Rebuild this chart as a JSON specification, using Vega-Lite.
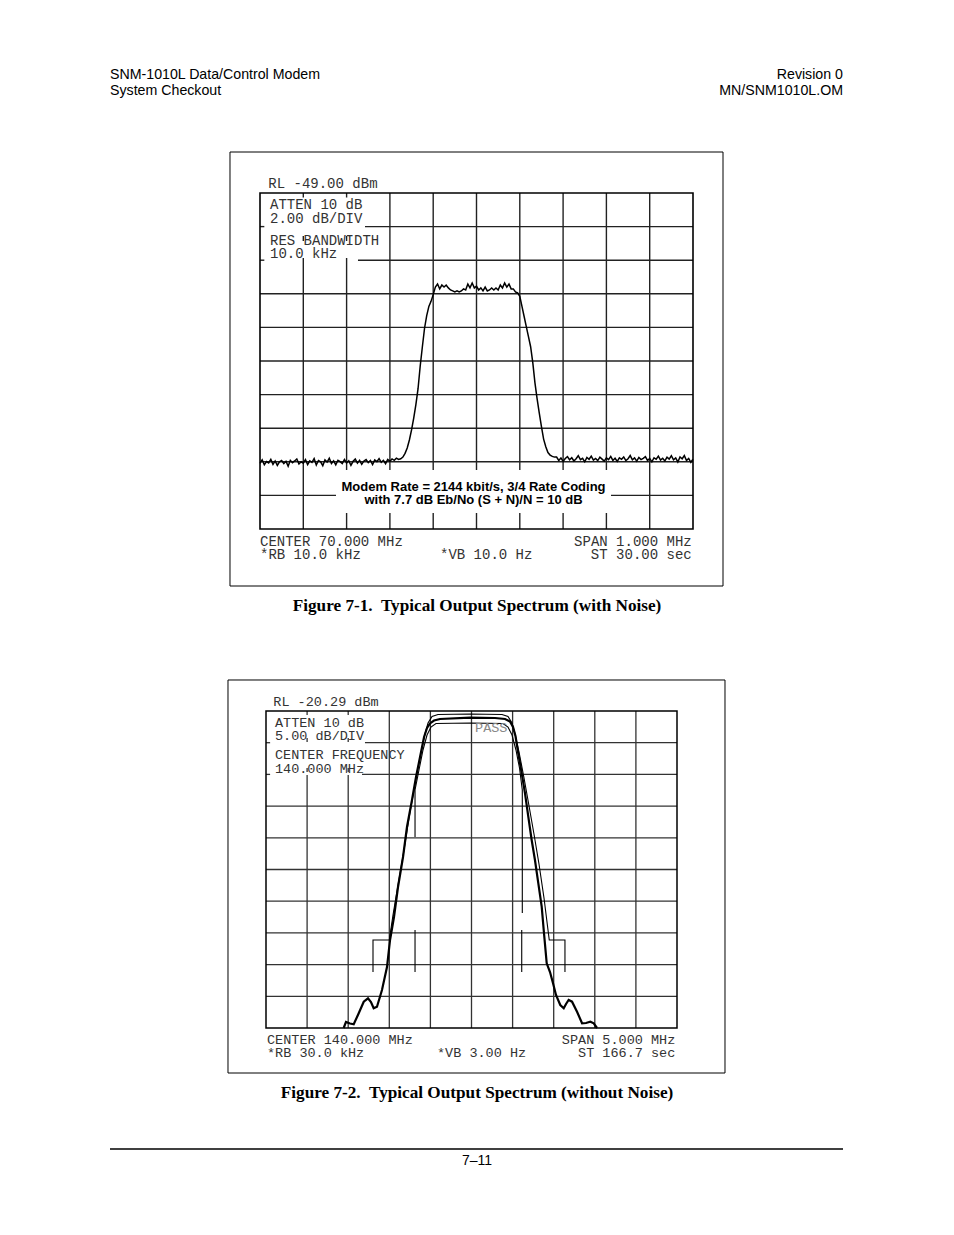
{
"$schema":"https://vega.github.io/schema/vega-lite/v6.json",
"width":954,"height":1235,"padding":0,
"autosize":{"type":"fit","contains":"padding"},
"background":"white",
"config":{"view":{"stroke":null}},
"resolve":{"scale":{"x":"independent","y":"independent"}},
"datasets":{
"p1trace":[
{"f":69.500,"d":-65.10},{"f":69.505,"d":-64.89},{"f":69.510,"d":-65.18},{"f":69.515,"d":-64.99},{"f":69.520,"d":-65.07},{"f":69.525,"d":-64.86},{"f":69.530,"d":-65.15},{"f":69.535,"d":-64.95},{"f":69.540,"d":-65.21},{"f":69.545,"d":-65.00},
{"f":69.550,"d":-64.92},{"f":69.555,"d":-65.11},{"f":69.560,"d":-64.97},{"f":69.565,"d":-65.26},{"f":69.570,"d":-64.91},{"f":69.575,"d":-65.05},{"f":69.580,"d":-64.95},{"f":69.585,"d":-64.83},{"f":69.590,"d":-65.13},{"f":69.595,"d":-65.00},
{"f":69.600,"d":-65.08},{"f":69.605,"d":-64.87},{"f":69.610,"d":-65.16},{"f":69.615,"d":-64.94},{"f":69.620,"d":-65.03},{"f":69.625,"d":-64.81},{"f":69.630,"d":-65.19},{"f":69.635,"d":-64.92},{"f":69.640,"d":-65.00},{"f":69.645,"d":-65.23},
{"f":69.650,"d":-64.89},{"f":69.655,"d":-65.02},{"f":69.660,"d":-64.79},{"f":69.665,"d":-65.10},{"f":69.670,"d":-64.94},{"f":69.675,"d":-65.18},{"f":69.680,"d":-64.91},{"f":69.685,"d":-64.99},{"f":69.690,"d":-65.11},{"f":69.695,"d":-64.86},
{"f":69.700,"d":-65.07},{"f":69.705,"d":-64.94},{"f":69.710,"d":-65.21},{"f":69.715,"d":-64.97},{"f":69.720,"d":-64.84},{"f":69.725,"d":-65.08},{"f":69.730,"d":-64.91},{"f":69.735,"d":-65.15},{"f":69.740,"d":-64.95},{"f":69.745,"d":-64.87},
{"f":69.750,"d":-65.05},{"f":69.755,"d":-64.92},{"f":69.760,"d":-65.16},{"f":69.765,"d":-64.89},{"f":69.770,"d":-64.99},{"f":69.775,"d":-64.81},{"f":69.780,"d":-65.03},{"f":69.785,"d":-64.91},{"f":69.790,"d":-65.11},{"f":69.795,"d":-64.86},
{"f":69.800,"d":-64.97},{"f":69.805,"d":-64.83},{"f":69.810,"d":-64.91},{"f":69.815,"d":-64.78},{"f":69.820,"d":-64.86},
{"f":69.825,"d":-64.82},{"f":69.830,"d":-64.72},{"f":69.835,"d":-64.50},{"f":69.840,"d":-64.18},{"f":69.845,"d":-63.70},{"f":69.850,"d":-63.10},{"f":69.855,"d":-62.40},{"f":69.860,"d":-61.60},{"f":69.865,"d":-60.65},{"f":69.870,"d":-59.30},
{"f":69.875,"d":-58.15},{"f":69.880,"d":-57.05},{"f":69.885,"d":-56.30},{"f":69.890,"d":-55.75},{"f":69.895,"d":-55.45},{"f":69.900,"d":-55.05},
{"f":69.905,"d":-54.60},{"f":69.910,"d":-54.42},{"f":69.915,"d":-54.71},{"f":69.920,"d":-54.48},{"f":69.925,"d":-54.60},{"f":69.930,"d":-54.48},{"f":69.935,"d":-54.65},{"f":69.940,"d":-54.77},{"f":69.945,"d":-54.83},{"f":69.950,"d":-54.89},
{"f":69.955,"d":-54.83},{"f":69.960,"d":-54.89},{"f":69.965,"d":-54.83},{"f":69.970,"d":-54.71},{"f":69.975,"d":-54.77},{"f":69.980,"d":-54.42},{"f":69.985,"d":-54.65},{"f":69.990,"d":-54.36},{"f":69.995,"d":-54.65},{"f":70.000,"d":-54.54},
{"f":70.005,"d":-54.77},{"f":70.010,"d":-54.65},{"f":70.015,"d":-54.83},{"f":70.020,"d":-54.60},{"f":70.025,"d":-54.83},{"f":70.030,"d":-54.77},{"f":70.035,"d":-54.65},{"f":70.040,"d":-54.77},{"f":70.045,"d":-54.65},{"f":70.050,"d":-54.77},
{"f":70.055,"d":-54.48},{"f":70.060,"d":-54.65},{"f":70.065,"d":-54.36},{"f":70.070,"d":-54.60},{"f":70.075,"d":-54.42},{"f":70.080,"d":-54.71},{"f":70.085,"d":-54.71},{"f":70.090,"d":-54.89},{"f":70.095,"d":-54.95},
{"f":70.100,"d":-55.15},{"f":70.105,"d":-55.75},{"f":70.110,"d":-56.35},{"f":70.115,"d":-56.95},{"f":70.120,"d":-57.55},{"f":70.125,"d":-58.15},{"f":70.130,"d":-59.10},{"f":70.135,"d":-60.30},{"f":70.140,"d":-61.25},{"f":70.145,"d":-62.10},
{"f":70.150,"d":-62.90},{"f":70.155,"d":-63.65},{"f":70.160,"d":-64.10},{"f":70.165,"d":-64.45},{"f":70.170,"d":-64.60},{"f":70.175,"d":-64.68},{"f":70.180,"d":-64.72},
{"f":70.185,"d":-64.72},{"f":70.190,"d":-64.92},{"f":70.195,"d":-64.77},{"f":70.200,"d":-64.98},{"f":70.205,"d":-64.80},{"f":70.210,"d":-64.69},{"f":70.215,"d":-64.88},{"f":70.220,"d":-64.76},{"f":70.225,"d":-64.95},{"f":70.230,"d":-64.82},
{"f":70.235,"d":-64.64},{"f":70.240,"d":-64.87},{"f":70.245,"d":-64.79},{"f":70.250,"d":-65.00},{"f":70.255,"d":-64.74},{"f":70.260,"d":-64.85},{"f":70.265,"d":-64.66},{"f":70.270,"d":-64.90},{"f":70.275,"d":-64.80},{"f":70.280,"d":-64.93},
{"f":70.285,"d":-64.72},{"f":70.290,"d":-64.84},{"f":70.295,"d":-64.96},{"f":70.300,"d":-64.77},{"f":70.305,"d":-64.87},{"f":70.310,"d":-64.68},{"f":70.315,"d":-64.92},{"f":70.320,"d":-64.79},{"f":70.325,"d":-64.98},{"f":70.330,"d":-64.76},
{"f":70.335,"d":-64.85},{"f":70.340,"d":-64.71},{"f":70.345,"d":-64.93},{"f":70.350,"d":-64.82},{"f":70.355,"d":-64.63},{"f":70.360,"d":-64.88},{"f":70.365,"d":-64.77},{"f":70.370,"d":-64.96},{"f":70.375,"d":-64.74},{"f":70.380,"d":-64.87},
{"f":70.385,"d":-64.79},{"f":70.390,"d":-64.69},{"f":70.395,"d":-64.92},{"f":70.400,"d":-64.80},{"f":70.405,"d":-65.00},{"f":70.410,"d":-64.76},{"f":70.415,"d":-64.85},{"f":70.420,"d":-64.66},{"f":70.425,"d":-64.90},{"f":70.430,"d":-64.79},
{"f":70.435,"d":-64.95},{"f":70.440,"d":-64.72},{"f":70.445,"d":-64.84},{"f":70.450,"d":-64.64},{"f":70.455,"d":-64.88},{"f":70.460,"d":-64.77},{"f":70.465,"d":-65.01},{"f":70.470,"d":-64.71},{"f":70.475,"d":-64.82},{"f":70.480,"d":-64.63},
{"f":70.485,"d":-64.92},{"f":70.490,"d":-64.80},{"f":70.495,"d":-65.03},{"f":70.500,"d":-64.85}
],
"p1grid":[
{"x1":69.6,"x2":69.6,"y1":-49,"y2":-49.268},{"x1":69.6,"x2":69.6,"y1":-51.56,"y2":-51.857},{"x1":69.6,"x2":69.6,"y1":-52.869,"y2":-69},
{"x1":69.7,"x2":69.7,"y1":-49,"y2":-49.268},{"x1":69.7,"x2":69.7,"y1":-51.56,"y2":-51.857},{"x1":69.7,"x2":69.7,"y1":-52.869,"y2":-65.488},{"x1":69.7,"x2":69.7,"y1":-68.048,"y2":-69},
{"x1":69.8,"x2":69.8,"y1":-49,"y2":-65.488},{"x1":69.8,"x2":69.8,"y1":-68.048,"y2":-69},
{"x1":69.9,"x2":69.9,"y1":-49,"y2":-65.488},{"x1":69.9,"x2":69.9,"y1":-68.048,"y2":-69},
{"x1":70.0,"x2":70.0,"y1":-49,"y2":-65.488},{"x1":70.0,"x2":70.0,"y1":-68.048,"y2":-69},
{"x1":70.1,"x2":70.1,"y1":-49,"y2":-65.488},{"x1":70.1,"x2":70.1,"y1":-68.048,"y2":-69},
{"x1":70.2,"x2":70.2,"y1":-49,"y2":-65.488},{"x1":70.2,"x2":70.2,"y1":-68.048,"y2":-69},
{"x1":70.3,"x2":70.3,"y1":-49,"y2":-65.488},{"x1":70.3,"x2":70.3,"y1":-68.048,"y2":-69},
{"x1":70.4,"x2":70.4,"y1":-49,"y2":-69},
{"x1":69.7425,"x2":70.5,"y1":-51,"y2":-51},{"x1":69.5,"x2":69.51,"y1":-51,"y2":-51},
{"x1":69.7263,"x2":70.5,"y1":-53,"y2":-53},{"x1":69.5,"x2":69.51,"y1":-53,"y2":-53},
{"x1":69.5,"x2":70.5,"y1":-55,"y2":-55},{"x1":69.5,"x2":70.5,"y1":-57,"y2":-57},{"x1":69.5,"x2":70.5,"y1":-59,"y2":-59},
{"x1":69.5,"x2":70.5,"y1":-61,"y2":-61},{"x1":69.5,"x2":70.5,"y1":-63,"y2":-63},{"x1":69.5,"x2":70.5,"y1":-65,"y2":-65},
{"x1":69.5,"x2":69.6755,"y1":-67,"y2":-67},{"x1":70.3106,"x2":70.5,"y1":-67,"y2":-67}
],
"p1frame":[{"x1":69.5,"x2":70.5,"y1":-49,"y2":-69}],
"p1outer":[{"x1":69.4307,"x2":70.5693,"y1":-46.56,"y2":-72.393}],
"p1mono":[
{"t":"RL -49.00 dBm","f":69.5192,"d":-48.464},
{"t":"ATTEN 10 dB","f":69.5231,"d":-49.714},
{"t":"2.00 dB/DIV","f":69.5231,"d":-50.577},
{"t":"RES BANDWIDTH","f":69.5231,"d":-51.839},
{"t":"10.0 kHz","f":69.5231,"d":-52.649},
{"t":"CENTER 70.000 MHz","f":69.5,"d":-69.756},
{"t":"*RB 10.0 kHz","f":69.5,"d":-70.565},
{"t":"*VB 10.0 Hz","f":69.9157,"d":-70.565}
],
"p1monoR":[
{"t":"SPAN 1.000 MHz","f":70.497,"d":-69.756},
{"t":"ST 30.00 sec","f":70.497,"d":-70.565}
],
"p1note":[
{"t":"Modem Rate = 2144 kbit/s, 3/4 Rate Coding","f":69.9931,"d":-66.518},
{"t":"with 7.7 dB Eb/No (S + N)/N = 10 dB","f":69.9931,"d":-67.274}
],
"headL":[
{"t":"SNM-1010L Data/Control Modem","f":69.1536,"d":-41.976},
{"t":"System Checkout","f":69.1536,"d":-42.929}
],
"headR":[
{"t":"Revision 0","f":70.8464,"d":-41.976},
{"t":"MN/SNM1010L.OM","f":70.8464,"d":-42.929}
],
"cap1":[{"t":"Figure 7-1.\u00a0 Typical Output Spectrum (with Noise)","f":70.0012,"d":-73.583}],
"p2grid":[
{"x1":138,"x2":138,"y1":-20.29,"y2":-20.921},{"x1":138,"x2":138,"y1":-24.549,"y2":-25.18},{"x1":138,"x2":138,"y1":-29.281,"y2":-29.912},{"x1":138,"x2":138,"y1":-30.385,"y2":-70.29},
{"x1":138.5,"x2":138.5,"y1":-20.29,"y2":-20.921},{"x1":138.5,"x2":138.5,"y1":-24.549,"y2":-25.18},{"x1":138.5,"x2":138.5,"y1":-29.281,"y2":-29.912},{"x1":138.5,"x2":138.5,"y1":-30.385,"y2":-70.29},
{"x1":139,"x2":139,"y1":-20.29,"y2":-70.29},{"x1":139.5,"x2":139.5,"y1":-20.29,"y2":-70.29},{"x1":140,"x2":140,"y1":-20.29,"y2":-70.29},
{"x1":140.5,"x2":140.5,"y1":-20.29,"y2":-70.29},{"x1":141,"x2":141,"y1":-20.29,"y2":-70.29},{"x1":141.5,"x2":141.5,"y1":-20.29,"y2":-70.29},{"x1":142,"x2":142,"y1":-20.29,"y2":-70.29},
{"x1":138.704,"x2":142.5,"y1":-25.29,"y2":-25.29},{"x1":137.5,"x2":137.55,"y1":-25.29,"y2":-25.29},
{"x1":138.668,"x2":142.5,"y1":-30.29,"y2":-30.29},{"x1":137.5,"x2":137.55,"y1":-30.29,"y2":-30.29},
{"x1":137.5,"x2":142.5,"y1":-35.29,"y2":-35.29},{"x1":137.5,"x2":142.5,"y1":-40.29,"y2":-40.29},{"x1":137.5,"x2":142.5,"y1":-45.29,"y2":-45.29},
{"x1":137.5,"x2":142.5,"y1":-50.29,"y2":-50.29},{"x1":137.5,"x2":142.5,"y1":-55.29,"y2":-55.29},{"x1":137.5,"x2":142.5,"y1":-60.29,"y2":-60.29},
{"x1":137.5,"x2":142.5,"y1":-65.29,"y2":-65.29}
],
"p2frame":[{"x1":137.5,"x2":142.5,"y1":-20.29,"y2":-70.29}],
"p2outer":[{"x1":137.0377,"x2":143.0839,"y1":-15.4,"y2":-77.388}],
"p2meas":[
{"f":138.445,"d":-70.29},{"f":138.473,"d":-69.34},{"f":138.522,"d":-69.58},{"f":138.567,"d":-69.71},{"f":138.628,"d":-67.97},{"f":138.689,"d":-66.14},
{"f":138.741,"d":-65.61},{"f":138.777,"d":-66.19},{"f":138.810,"d":-67.18},{"f":138.850,"d":-66.93},{"f":138.911,"d":-64.30},{"f":138.972,"d":-60.67},
{"f":139.009,"d":-56.41},{"f":139.057,"d":-52.78},{"f":139.106,"d":-48.05},{"f":139.167,"d":-43.32},{"f":139.215,"d":-38.59},{"f":139.276,"d":-34.33},
{"f":139.325,"d":-30.70},{"f":139.374,"d":-27.55},{"f":139.423,"d":-24.39},{"f":139.459,"d":-22.97},{"f":139.495,"d":-22.26},{"f":139.544,"d":-21.79},
{"f":139.617,"d":-21.55},{"f":139.982,"d":-21.32},{"f":140.286,"d":-21.39},{"f":140.408,"d":-21.55},{"f":140.468,"d":-21.95},{"f":140.505,"d":-22.81},
{"f":140.535,"d":-24.23},{"f":140.569,"d":-26.96},{"f":140.611,"d":-30.12},{"f":140.651,"d":-33.27},{"f":140.691,"d":-36.96},{"f":140.732,"d":-40.64},
{"f":140.772,"d":-43.79},{"f":140.813,"d":-47.47},{"f":140.854,"d":-51.16},{"f":140.882,"d":-55.35},{"f":140.915,"d":-60.09},{"f":140.955,"d":-61.46},
{"f":140.991,"d":-63.19},{"f":141.028,"d":-65.08},{"f":141.080,"d":-66.66},{"f":141.122,"d":-67.18},{"f":141.150,"d":-66.50},{"f":141.182,"d":-65.87},
{"f":141.223,"d":-66.14},{"f":141.284,"d":-67.72},{"f":141.345,"d":-69.55},{"f":141.393,"d":-69.50},{"f":141.446,"d":-69.30},{"f":141.487,"d":-69.55},
{"f":141.527,"d":-70.29}
],
"p2mask":[
{"s":"outer","f":138.8017,"d":-61.457},{"s":"outer","f":138.8017,"d":-56.41},{"s":"outer","f":139.0,"d":-56.41},{"s":"outer","f":139.045,"d":-52.467},
{"s":"outer","f":139.106,"d":-47.735},{"s":"outer","f":139.179,"d":-42.215},{"s":"outer","f":139.24,"d":-37.167},{"s":"outer","f":139.301,"d":-32.751},
{"s":"outer","f":139.349,"d":-29.281},{"s":"outer","f":139.398,"d":-26.126},{"s":"outer","f":139.434,"d":-23.918},{"s":"outer","f":139.471,"d":-22.183},
{"s":"outer","f":139.52,"d":-21.157},{"s":"outer","f":139.592,"d":-20.842},{"s":"outer","f":139.982,"d":-20.763},{"s":"outer","f":140.371,"d":-20.842},
{"s":"outer","f":140.444,"d":-21.157},{"s":"outer","f":140.493,"d":-22.183},{"s":"outer","f":140.529,"d":-23.918},{"s":"outer","f":140.578,"d":-26.757},
{"s":"outer","f":140.639,"d":-30.858},{"s":"outer","f":140.7,"d":-35.274},{"s":"outer","f":140.76,"d":-39.691},{"s":"outer","f":140.821,"d":-44.423},
{"s":"outer","f":140.882,"d":-49.786},{"s":"outer","f":140.946,"d":-56.41},{"s":"outer","f":141.137,"d":-56.41},{"s":"outer","f":141.137,"d":-61.457},
{"s":"inner","f":139.313,"d":-40.164},{"s":"inner","f":139.313,"d":-32.751},{"s":"inner","f":139.361,"d":-29.596},{"s":"inner","f":139.41,"d":-26.441},
{"s":"inner","f":139.459,"d":-24.076},{"s":"inner","f":139.507,"d":-22.814},{"s":"inner","f":139.568,"d":-22.262},{"s":"inner","f":139.982,"d":-22.183},
{"s":"inner","f":140.383,"d":-22.262},{"s":"inner","f":140.444,"d":-22.814},{"s":"inner","f":140.493,"d":-24.076},{"s":"inner","f":140.541,"d":-26.441},
{"s":"inner","f":140.584,"d":-29.281},{"s":"inner","f":140.618,"d":-32.751},{"s":"inner","f":140.618,"d":-52.151}
],
"p2vert":[
{"f":139.313,"d1":-54.832,"d2":-61.457},
{"f":140.611,"d1":-54.832,"d2":-61.457}
],
"p2mono":[
{"t":"RL -20.29 dBm","f":137.589,"d":-18.87},
{"t":"ATTEN 10 dB","f":137.609,"d":-22.23},
{"t":"5.00 dB/DIV","f":137.609,"d":-24.233},
{"t":"CENTER FREQUENCY","f":137.609,"d":-27.23},
{"t":"140.000 MHz","f":137.609,"d":-29.49},
{"t":"CENTER 140.000 MHz","f":137.512,"d":-72.135},
{"t":"*RB 30.0 kHz","f":137.512,"d":-74.264},
{"t":"*VB 3.00 Hz","f":139.58,"d":-74.264}
],
"p2monoR":[
{"t":"SPAN 5.000 MHz","f":142.479,"d":-72.135},
{"t":"ST 166.7 sec","f":142.479,"d":-74.264}
],
"p2pass":[{"t":"PASS","f":140.043,"d":-23.02}],
"cap2":[{"t":"Figure 7-2.\u00a0 Typical Output Spectrum (without Noise)","f":140.067,"d":-80.542}],
"footrule":[{"x1":135.6022,"x2":144.5195,"y":-89.374}],
"pagenum":[{"t":"7\u201311","f":140.067,"d":-91.267}]
},
"layer":[
{"data":{"name":"p1outer"},"mark":{"type":"rect","fill":null,"fillOpacity":0,"stroke":"#000","strokeWidth":1},
 "encoding":{"x":{"field":"x1","type":"quantitative","scale":{"domain":[69.5,70.5],"range":[260,693]},"axis":null},"x2":{"field":"x2"},
 "y":{"field":"y1","type":"quantitative","scale":{"domain":[-69,-49],"range":[529,193]},"axis":null},"y2":{"field":"y2"}}},
{"data":{"name":"p1grid"},"mark":{"type":"rule","color":"#222","strokeWidth":1.4},
 "encoding":{"x":{"field":"x1","type":"quantitative","scale":{"domain":[69.5,70.5],"range":[260,693]},"axis":null},"x2":{"field":"x2"},
 "y":{"field":"y1","type":"quantitative","scale":{"domain":[-69,-49],"range":[529,193]},"axis":null},"y2":{"field":"y2"}}},
{"data":{"name":"p1frame"},"mark":{"type":"rect","fill":null,"fillOpacity":0,"stroke":"#000","strokeWidth":1.6},
 "encoding":{"x":{"field":"x1","type":"quantitative","scale":{"domain":[69.5,70.5],"range":[260,693]},"axis":null},"x2":{"field":"x2"},
 "y":{"field":"y1","type":"quantitative","scale":{"domain":[-69,-49],"range":[529,193]},"axis":null},"y2":{"field":"y2"}}},
{"data":{"name":"p1trace"},"mark":{"type":"line","color":"#000","strokeWidth":1.5,"interpolate":"linear"},
 "encoding":{"x":{"field":"f","type":"quantitative","scale":{"domain":[69.5,70.5],"range":[260,693]},"axis":null},
 "y":{"field":"d","type":"quantitative","scale":{"domain":[-69,-49],"range":[529,193]},"axis":null}}},
{"data":{"name":"p1mono"},"mark":{"type":"text","align":"left","baseline":"middle","font":"Liberation Mono","fontSize":14,"color":"#333"},
 "encoding":{"x":{"field":"f","type":"quantitative","scale":{"domain":[69.5,70.5],"range":[260,693]},"axis":null},
 "y":{"field":"d","type":"quantitative","scale":{"domain":[-69,-49],"range":[529,193]},"axis":null},"text":{"field":"t"}}},
{"data":{"name":"p1monoR"},"mark":{"type":"text","align":"right","baseline":"middle","font":"Liberation Mono","fontSize":14,"color":"#333"},
 "encoding":{"x":{"field":"f","type":"quantitative","scale":{"domain":[69.5,70.5],"range":[260,693]},"axis":null},
 "y":{"field":"d","type":"quantitative","scale":{"domain":[-69,-49],"range":[529,193]},"axis":null},"text":{"field":"t"}}},
{"data":{"name":"p1note"},"mark":{"type":"text","align":"center","baseline":"middle","font":"Liberation Sans","fontWeight":"bold","fontSize":13,"color":"#000"},
 "encoding":{"x":{"field":"f","type":"quantitative","scale":{"domain":[69.5,70.5],"range":[260,693]},"axis":null},
 "y":{"field":"d","type":"quantitative","scale":{"domain":[-69,-49],"range":[529,193]},"axis":null},"text":{"field":"t"}}},
{"data":{"name":"headL"},"mark":{"type":"text","align":"left","baseline":"middle","font":"Liberation Sans","fontSize":14.2,"color":"#000"},
 "encoding":{"x":{"field":"f","type":"quantitative","scale":{"domain":[69.5,70.5],"range":[260,693]},"axis":null},
 "y":{"field":"d","type":"quantitative","scale":{"domain":[-69,-49],"range":[529,193]},"axis":null},"text":{"field":"t"}}},
{"data":{"name":"headR"},"mark":{"type":"text","align":"right","baseline":"middle","font":"Liberation Sans","fontSize":14.2,"color":"#000"},
 "encoding":{"x":{"field":"f","type":"quantitative","scale":{"domain":[69.5,70.5],"range":[260,693]},"axis":null},
 "y":{"field":"d","type":"quantitative","scale":{"domain":[-69,-49],"range":[529,193]},"axis":null},"text":{"field":"t"}}},
{"data":{"name":"cap1"},"mark":{"type":"text","align":"center","baseline":"middle","font":"Liberation Serif","fontWeight":"bold","fontSize":17.2,"color":"#000"},
 "encoding":{"x":{"field":"f","type":"quantitative","scale":{"domain":[69.5,70.5],"range":[260,693]},"axis":null},
 "y":{"field":"d","type":"quantitative","scale":{"domain":[-69,-49],"range":[529,193]},"axis":null},"text":{"field":"t"}}},
{"data":{"name":"p2outer"},"mark":{"type":"rect","fill":null,"fillOpacity":0,"stroke":"#000","strokeWidth":1},
 "encoding":{"x":{"field":"x1","type":"quantitative","scale":{"domain":[137.5,142.5],"range":[266,677]},"axis":null},"x2":{"field":"x2"},
 "y":{"field":"y1","type":"quantitative","scale":{"domain":[-70.29,-20.29],"range":[1028,711]},"axis":null},"y2":{"field":"y2"}}},
{"data":{"name":"p2grid"},"mark":{"type":"rule","color":"#333","strokeWidth":1.3},
 "encoding":{"x":{"field":"x1","type":"quantitative","scale":{"domain":[137.5,142.5],"range":[266,677]},"axis":null},"x2":{"field":"x2"},
 "y":{"field":"y1","type":"quantitative","scale":{"domain":[-70.29,-20.29],"range":[1028,711]},"axis":null},"y2":{"field":"y2"}}},
{"data":{"name":"p2frame"},"mark":{"type":"rect","fill":null,"fillOpacity":0,"stroke":"#000","strokeWidth":1.5},
 "encoding":{"x":{"field":"x1","type":"quantitative","scale":{"domain":[137.5,142.5],"range":[266,677]},"axis":null},"x2":{"field":"x2"},
 "y":{"field":"y1","type":"quantitative","scale":{"domain":[-70.29,-20.29],"range":[1028,711]},"axis":null},"y2":{"field":"y2"}}},
{"data":{"name":"p2vert"},"mark":{"type":"rule","color":"#000","strokeWidth":1.1},
 "encoding":{"x":{"field":"f","type":"quantitative","scale":{"domain":[137.5,142.5],"range":[266,677]},"axis":null},
 "y":{"field":"d1","type":"quantitative","scale":{"domain":[-70.29,-20.29],"range":[1028,711]},"axis":null},"y2":{"field":"d2"}}},
{"data":{"name":"p2mask"},"mark":{"type":"line","color":"#000","strokeWidth":1.1},
 "encoding":{"x":{"field":"f","type":"quantitative","scale":{"domain":[137.5,142.5],"range":[266,677]},"axis":null},
 "y":{"field":"d","type":"quantitative","scale":{"domain":[-70.29,-20.29],"range":[1028,711]},"axis":null},
 "detail":{"field":"s"},"order":{"value":null}}},
{"data":{"name":"p2meas"},"mark":{"type":"line","color":"#000","strokeWidth":2.2},
 "encoding":{"x":{"field":"f","type":"quantitative","scale":{"domain":[137.5,142.5],"range":[266,677]},"axis":null},
 "y":{"field":"d","type":"quantitative","scale":{"domain":[-70.29,-20.29],"range":[1028,711]},"axis":null},"order":{"value":null}}},
{"data":{"name":"p2mono"},"mark":{"type":"text","align":"left","baseline":"middle","font":"Liberation Mono","fontSize":13.5,"color":"#333"},
 "encoding":{"x":{"field":"f","type":"quantitative","scale":{"domain":[137.5,142.5],"range":[266,677]},"axis":null},
 "y":{"field":"d","type":"quantitative","scale":{"domain":[-70.29,-20.29],"range":[1028,711]},"axis":null},"text":{"field":"t"}}},
{"data":{"name":"p2monoR"},"mark":{"type":"text","align":"right","baseline":"middle","font":"Liberation Mono","fontSize":13.5,"color":"#333"},
 "encoding":{"x":{"field":"f","type":"quantitative","scale":{"domain":[137.5,142.5],"range":[266,677]},"axis":null},
 "y":{"field":"d","type":"quantitative","scale":{"domain":[-70.29,-20.29],"range":[1028,711]},"axis":null},"text":{"field":"t"}}},
{"data":{"name":"p2pass"},"mark":{"type":"text","align":"left","baseline":"middle","font":"Liberation Mono","fontSize":13.5,"color":"#888"},
 "encoding":{"x":{"field":"f","type":"quantitative","scale":{"domain":[137.5,142.5],"range":[266,677]},"axis":null},
 "y":{"field":"d","type":"quantitative","scale":{"domain":[-70.29,-20.29],"range":[1028,711]},"axis":null},"text":{"field":"t"}}},
{"data":{"name":"cap2"},"mark":{"type":"text","align":"center","baseline":"middle","font":"Liberation Serif","fontWeight":"bold","fontSize":17.2,"color":"#000"},
 "encoding":{"x":{"field":"f","type":"quantitative","scale":{"domain":[137.5,142.5],"range":[266,677]},"axis":null},
 "y":{"field":"d","type":"quantitative","scale":{"domain":[-70.29,-20.29],"range":[1028,711]},"axis":null},"text":{"field":"t"}}},
{"data":{"name":"footrule"},"mark":{"type":"rule","color":"#000","strokeWidth":1.5},
 "encoding":{"x":{"field":"x1","type":"quantitative","scale":{"domain":[137.5,142.5],"range":[266,677]},"axis":null},"x2":{"field":"x2"},
 "y":{"field":"y","type":"quantitative","scale":{"domain":[-70.29,-20.29],"range":[1028,711]},"axis":null}}},
{"data":{"name":"pagenum"},"mark":{"type":"text","align":"center","baseline":"middle","font":"Liberation Sans","fontSize":14,"color":"#000"},
 "encoding":{"x":{"field":"f","type":"quantitative","scale":{"domain":[137.5,142.5],"range":[266,677]},"axis":null},
 "y":{"field":"d","type":"quantitative","scale":{"domain":[-70.29,-20.29],"range":[1028,711]},"axis":null},"text":{"field":"t"}}}
]
}
